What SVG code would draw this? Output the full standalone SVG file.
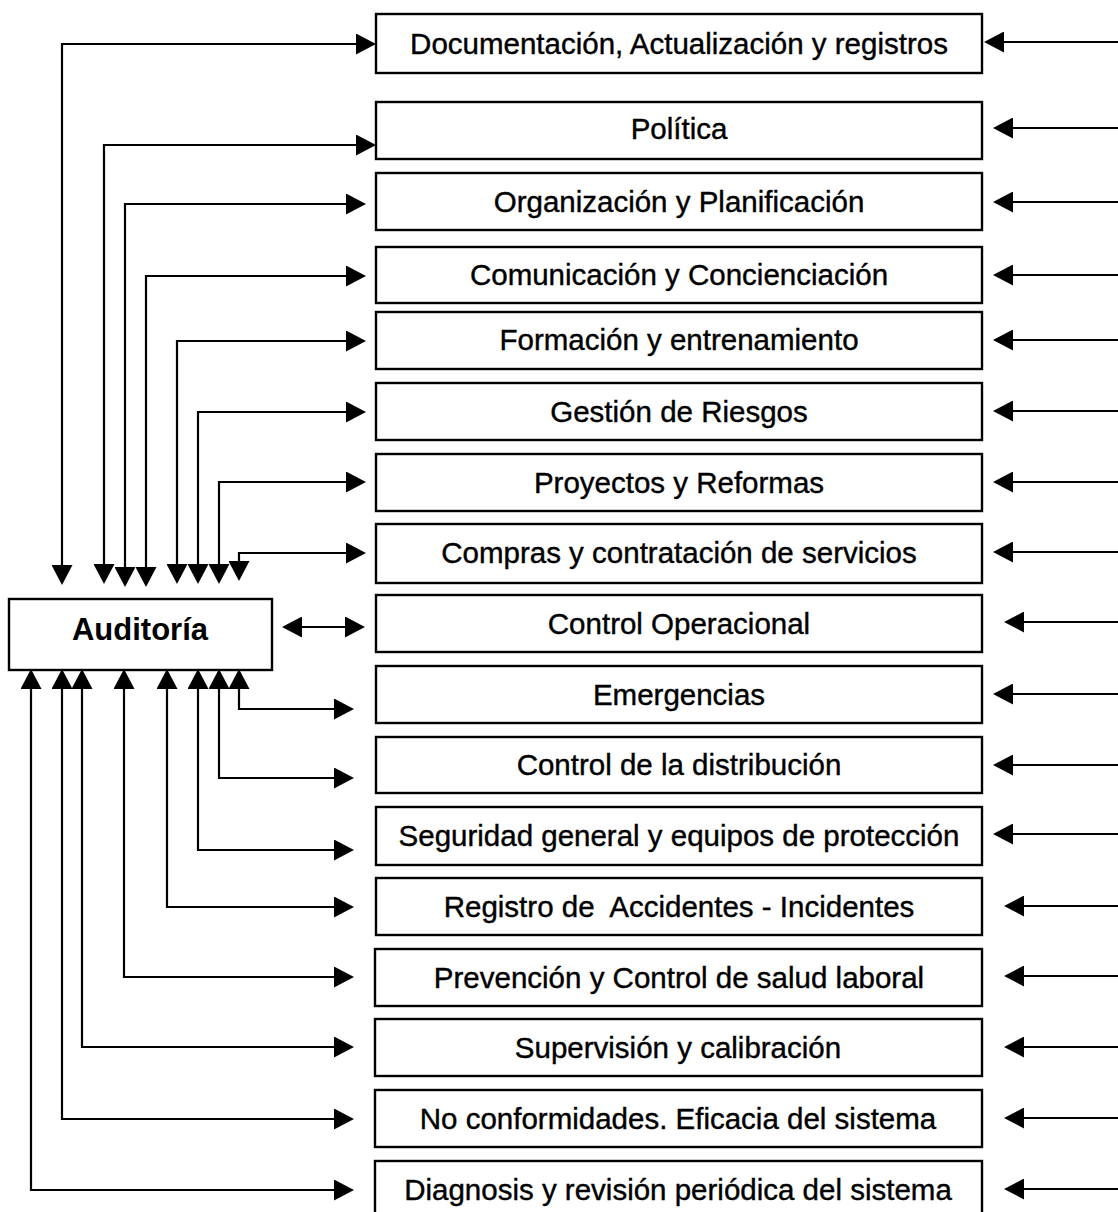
<svg xmlns="http://www.w3.org/2000/svg" width="1118" height="1212" viewBox="0 0 1118 1212">
  <style>
    .box { fill: #fff; stroke: #000; stroke-width: 2.4; }
    .lbl { font-family: "Liberation Sans", Arial, sans-serif; font-size: 29.5px; fill: #000; stroke: #000; stroke-width: 0.4; text-anchor: middle; }
    .main { font-family: "Liberation Sans", Arial, sans-serif; font-size: 31px; font-weight: bold; fill: #000; text-anchor: middle; }
    .wire { fill: none; stroke: #000; stroke-width: 2.2; marker-end: url(#ah); }
    .both { marker-start: url(#ah); }
  </style>
  <defs>
    <marker id="ah" viewBox="0 0 20 21" refX="12" refY="10.5" markerWidth="20" markerHeight="21" markerUnits="userSpaceOnUse" orient="auto-start-reverse">
      <path d="M0,0 L20,10.5 L0,21 z" fill="#000"/>
    </marker>
  </defs>
  <rect width="1118" height="1212" fill="#fff"/>

  <!-- Central node -->
  <g id="auditoria">
    <rect class="box" x="9" y="599" width="263" height="71"/>
    <text class="main" x="140" y="640">Auditoría</text>
  </g>

  <!-- Management system elements -->
  <g id="n-documentacion"><rect class="box" x="376" y="14" width="606" height="59"/><text class="lbl" x="679" y="54">Documentación, Actualización y registros</text></g>
  <g id="n-politica"><rect class="box" x="376" y="102" width="606" height="57"/><text class="lbl" x="679" y="139">Política</text></g>
  <g id="n-organizacion"><rect class="box" x="376" y="173" width="606" height="57"/><text class="lbl" x="679" y="212">Organización y Planificación</text></g>
  <g id="n-comunicacion"><rect class="box" x="376" y="247" width="606" height="56"/><text class="lbl" x="679" y="285">Comunicación y Concienciación</text></g>
  <g id="n-formacion"><rect class="box" x="376" y="312" width="606" height="57"/><text class="lbl" x="679" y="350">Formación y entrenamiento</text></g>
  <g id="n-riesgos"><rect class="box" x="376" y="383" width="606" height="57"/><text class="lbl" x="679" y="422">Gestión de Riesgos</text></g>
  <g id="n-proyectos"><rect class="box" x="376" y="454" width="606" height="57"/><text class="lbl" x="679" y="493">Proyectos y Reformas</text></g>
  <g id="n-compras"><rect class="box" x="376" y="524" width="606" height="59"/><text class="lbl" x="679" y="563">Compras y contratación de servicios</text></g>
  <g id="n-control-operacional"><rect class="box" x="376" y="595" width="606" height="57"/><text class="lbl" x="679" y="634">Control Operacional</text></g>
  <g id="n-emergencias"><rect class="box" x="376" y="666" width="606" height="57"/><text class="lbl" x="679" y="705">Emergencias</text></g>
  <g id="n-distribucion"><rect class="box" x="376" y="737" width="606" height="56"/><text class="lbl" x="679" y="775">Control de la distribución</text></g>
  <g id="n-seguridad"><rect class="box" x="376" y="807" width="606" height="58"/><text class="lbl" x="679" y="846">Seguridad general y equipos de protección</text></g>
  <g id="n-accidentes"><rect class="box" x="376" y="878" width="606" height="57"/><text class="lbl" x="679" y="917" xml:space="preserve">Registro de  Accidentes - Incidentes</text></g>
  <g id="n-salud"><rect class="box" x="375" y="949" width="607" height="57"/><text class="lbl" x="679" y="988">Prevención y Control de salud laboral</text></g>
  <g id="n-supervision"><rect class="box" x="375" y="1019" width="607" height="57"/><text class="lbl" x="678" y="1058">Supervisión y calibración</text></g>
  <g id="n-no-conformidades"><rect class="box" x="375" y="1090" width="607" height="57"/><text class="lbl" x="678" y="1129">No conformidades. Eficacia del sistema</text></g>
  <g id="n-diagnosis"><rect class="box" x="375" y="1161" width="607" height="60"/><text class="lbl" x="678" y="1200">Diagnosis y revisión periódica del sistema</text></g>

  <g id="connectors">
    <!-- Auditoría to upper elements (arrow at both ends) -->
    <path class="wire both" d="M62,577 V44 H368"/>
    <path class="wire both" d="M104,576 V145 H368"/>
    <path class="wire both" d="M125,579 V204 H358"/>
    <path class="wire both" d="M146,579 V276 H358"/>
    <path class="wire both" d="M177,576 V341 H358"/>
    <path class="wire both" d="M198,576 V412 H358"/>
    <path class="wire both" d="M219,576 V482 H358"/>
    <path class="wire both" d="M239,573 V553 H358"/>

    <!-- Auditoría and Control Operacional -->
    <path class="wire both" d="M290,627 H357"/>

    <!-- Auditoría to lower elements (arrow at both ends) -->
    <path class="wire both" d="M239,677 V709 H346"/>
    <path class="wire both" d="M219,677 V778 H346"/>
    <path class="wire both" d="M198,677 V850 H346"/>
    <path class="wire both" d="M167,677 V907 H346"/>
    <path class="wire both" d="M124,677 V977 H346"/>
    <path class="wire both" d="M82,677 V1047 H346"/>
    <path class="wire both" d="M62,677 V1119 H346"/>
    <path class="wire both" d="M31,677 V1190 H346"/>

    <!-- Inputs arriving from the right -->
    <path class="wire" d="M1118,42 H992"/>
    <path class="wire" d="M1118,128 H1001"/>
    <path class="wire" d="M1118,202 H1001"/>
    <path class="wire" d="M1118,275 H1001"/>
    <path class="wire" d="M1118,340 H1001"/>
    <path class="wire" d="M1118,411 H1001"/>
    <path class="wire" d="M1118,482 H1001"/>
    <path class="wire" d="M1118,552 H1001"/>
    <path class="wire" d="M1118,622 H1012"/>
    <path class="wire" d="M1118,694 H1001"/>
    <path class="wire" d="M1118,765 H1001"/>
    <path class="wire" d="M1118,834 H1001"/>
    <path class="wire" d="M1118,906 H1012"/>
    <path class="wire" d="M1118,976 H1012"/>
    <path class="wire" d="M1118,1047 H1012"/>
    <path class="wire" d="M1118,1118 H1012"/>
    <path class="wire" d="M1118,1189 H1012"/>
  </g>
</svg>
